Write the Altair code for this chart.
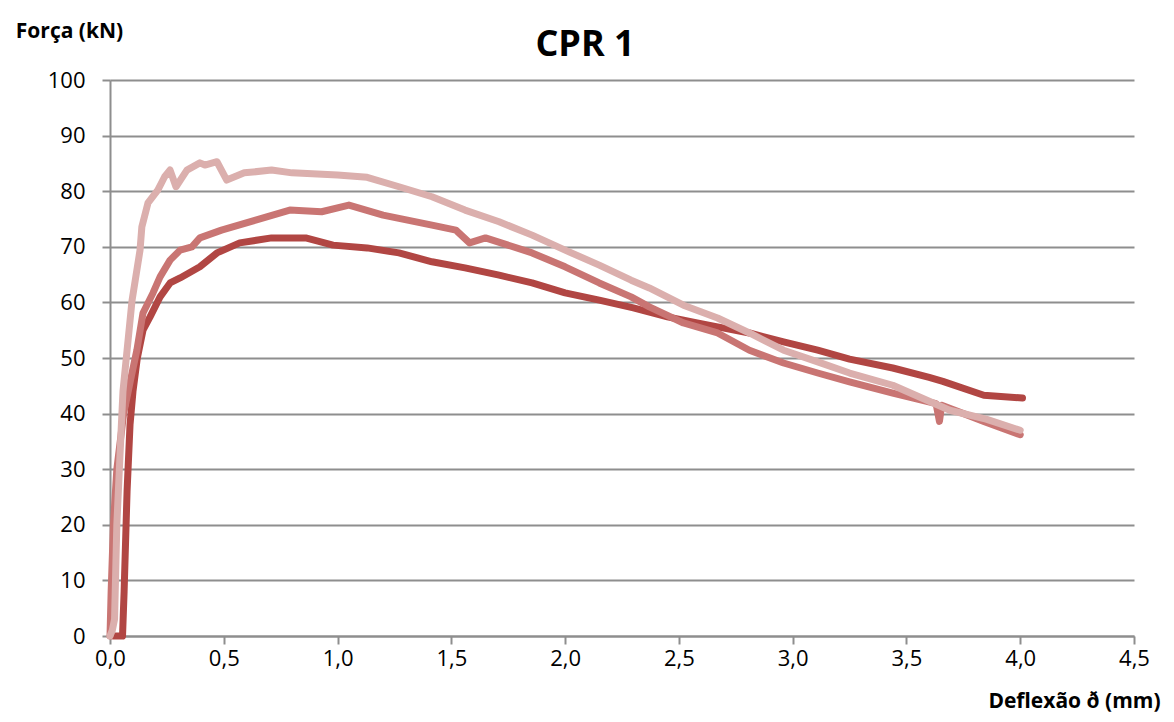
import altair as alt
import pandas as pd

# Deflexão (mm) / Força (kN)
dark_x = [0.013, 0.055, 0.062, 0.075, 0.088, 0.101, 0.12, 0.145, 0.176, 0.22, 0.264, 0.308, 0.395, 0.47,
          0.57, 0.71, 0.86, 0.98, 1.13, 1.27, 1.415, 1.56, 1.71, 1.855, 2.0, 2.15, 2.30, 2.45, 2.58,
          2.67, 2.81, 2.96, 3.11, 3.25, 3.44, 3.60, 3.66, 3.84, 4.01]
dark_y = [0.0, 0.0, 8.0, 26.0, 38.0, 44.0, 50.0, 55.0, 57.4, 61.0, 63.5, 64.4, 66.4, 68.9,
          70.7, 71.6, 71.6, 70.3, 69.8, 68.9, 67.3, 66.2, 64.9, 63.5, 61.7, 60.4, 59.0, 57.4, 56.3,
          55.6, 54.5, 52.9, 51.4, 49.8, 48.2, 46.5, 45.8, 43.3, 42.8]

mid_x = [0.0, 0.005, 0.015, 0.03, 0.06, 0.09, 0.118, 0.145, 0.189, 0.22, 0.264, 0.308, 0.36, 0.395,
         0.49, 0.64, 0.79, 0.93, 1.05, 1.2, 1.415, 1.52, 1.58, 1.65, 1.855, 2.0, 2.15, 2.29, 2.37,
         2.52, 2.67, 2.81, 2.96, 3.11, 3.25, 3.44, 3.63, 3.645, 3.655, 3.84, 4.0]
mid_y = [0.0, 8.0, 20.0, 30.0, 40.0, 46.0, 51.4, 58.1, 61.7, 64.6, 67.6, 69.4, 70.0, 71.6,
         73.0, 74.8, 76.6, 76.3, 77.5, 75.7, 73.9, 73.0, 70.7, 71.6, 68.9, 66.4, 63.5, 61.0, 59.2,
         56.3, 54.5, 51.4, 49.1, 47.3, 45.7, 43.7, 41.8, 38.6, 41.5, 38.6, 36.2]

light_x = [0.0, 0.01, 0.02, 0.03, 0.05, 0.057, 0.097, 0.132, 0.14, 0.167, 0.21, 0.24, 0.264, 0.29,
           0.338, 0.395, 0.417, 0.47, 0.513, 0.59, 0.71, 0.80, 1.0, 1.13, 1.27, 1.415, 1.56, 1.71,
           1.855, 2.0, 2.15, 2.29, 2.37, 2.52, 2.67, 2.81, 2.96, 3.11, 3.25, 3.44, 3.69, 3.85, 4.0]
light_y = [0.0, 1.0, 3.0, 20.0, 38.0, 44.0, 60.4, 69.4, 73.6, 77.9, 80.2, 82.6, 83.8, 80.8,
           83.8, 85.1, 84.7, 85.3, 82.0, 83.3, 83.8, 83.3, 82.9, 82.5, 80.8, 79.0, 76.6, 74.5,
           72.1, 69.4, 66.7, 64.0, 62.6, 59.5, 57.2, 54.5, 51.4, 49.3, 47.3, 45.1, 40.6, 39.0, 37.0]

x_ticks = [0.0, 0.5, 1.0, 1.5, 2.0, 2.5, 3.0, 3.5, 4.0, 4.5]
y_ticks = [0, 10, 20, 30, 40, 50, 60, 70, 80, 90, 100]

chart_title = "CPR 1"

series = [
    ("CPR 1 - A", dark_x, dark_y, "#B14643"),
    ("CPR 1 - B", mid_x, mid_y, "#C97573"),
    ("CPR 1 - C", light_x, light_y, "#DBAFAD"),
]

FONT = "Open Sans"
GRID = "#8E8E8E"

x_axis = alt.Axis(
    values=x_ticks,
    labelExpr="replace(format(datum.value, '.1f'), '.', ',')",
    grid=False, labelFlush=False,
    domainColor=GRID, domainWidth=2,
    tickColor=GRID, tickWidth=2, tickSize=8,
    labelFont=FONT, labelFontSize=22, labelColor="#000000", labelPadding=4,
    title="Deflexão ð (mm)",
    titleFont=FONT, titleFontSize=21, titleFontWeight="bold", titleColor="#000000",
    titleAnchor="end", titleAlign="right", titleX=1050, titleY=75, titleBaseline="bottom",
)
y_axis = alt.Axis(
    values=y_ticks,
    grid=True, gridColor=GRID, gridWidth=2, labelFlush=False,
    domainColor=GRID, domainWidth=2,
    tickColor=GRID, tickWidth=2, tickSize=8,
    labelFont=FONT, labelFontSize=22, labelColor="#000000", labelPadding=17,
    title="Força (kN)",
    titleFont=FONT, titleFontSize=21, titleFontWeight="bold", titleColor="#000000",
    titleAngle=0, titleAlign="center", titleBaseline="middle", titleX=-41, titleY=-49,
)

layers = []
for i, (name, xs, ys, col) in enumerate(series):
    df = pd.DataFrame({"x": xs, "y": ys, "i": list(range(len(xs))), "serie": name})
    enc = dict(
        x=alt.X("x:Q", scale=alt.Scale(domain=[0, 4.5], nice=False, zero=False), axis=x_axis),
        y=alt.Y("y:Q", scale=alt.Scale(domain=[0, 100], nice=False), axis=y_axis),
        order="i:Q",
    )
    layers.append(
        alt.Chart(df).mark_line(color=col, strokeWidth=7, strokeCap="round", strokeJoin="round").encode(**enc)
    )

title_layer = alt.Chart(pd.DataFrame({"t": [chart_title]})).mark_text(
    font=FONT, fontSize=36, fontWeight="bold", color="#000000", align="center", baseline="middle"
).encode(text="t:N", x=alt.value(475), y=alt.value(-35))

chart = alt.layer(*layers, title_layer).properties(
    width=1024,
    height=556,
    background="white",
    autosize=alt.AutoSizeParams(type="none"),
    padding={"left": 102, "top": 72, "right": 32, "bottom": 78},
).configure_view(stroke=None)

chart.save("out.html", embed_options={"renderer": "svg", "actions": False})
